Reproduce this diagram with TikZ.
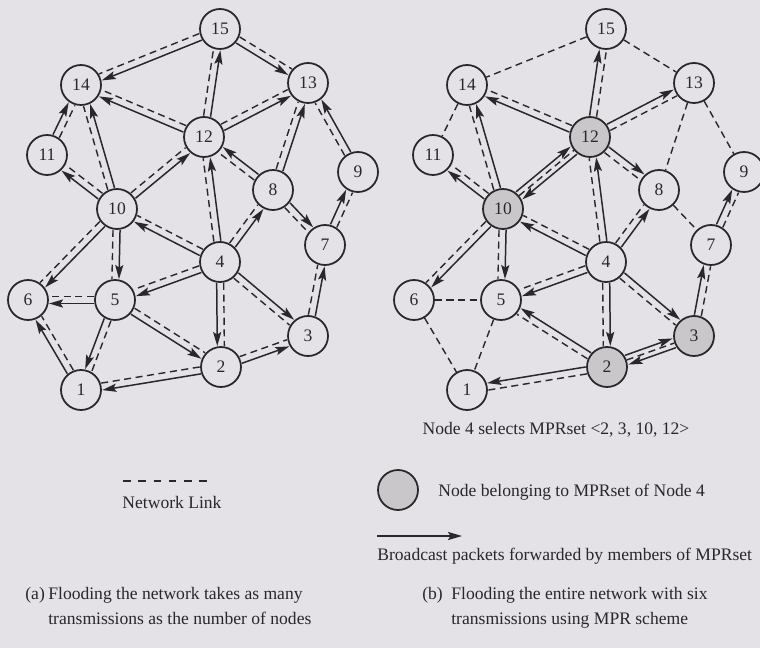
\documentclass[tikz,border=0pt]{standalone}
\usepackage{fontspec}
\setmainfont{Liberation Serif}
\usetikzlibrary{arrows.meta, calc}

\definecolor{paper}{RGB}{229,226,231}
\definecolor{ink}{RGB}{42,38,42}
\definecolor{mprgray}{RGB}{202,199,203}

\newcommand{\linkoff}{2pt}
\newcommand{\twooff}{2.8pt}

% #1 graph, arrow #2 -> #3, #4 side of the dashed link (1 = left)
\newcommand{\flood}[4]{%
  \pgfmathsetlengthmacro{\dsh}{(#4)*\linkoff}%
  \pgfmathsetlengthmacro{\arw}{-(#4)*\linkoff}%
  \draw[netlink, trim] ($(#1#2)!\dsh!90:(#1#3)$) -- ($(#1#3)!\dsh!-90:(#1#2)$);
  \draw[fwd, trim] ($(#1#2)!\arw!90:(#1#3)$) -- ($(#1#3)!\arw!-90:(#1#2)$);
}
\newcommand{\twoway}[3]{%
  \draw[netlink] (#1#2) -- (#1#3);
  \draw[fwd, trim] ($(#1#2)!\twooff!90:(#1#3)$) -- ($(#1#3)!\twooff!-90:(#1#2)$);
  \draw[fwd, trim] ($(#1#3)!\twooff!90:(#1#2)$) -- ($(#1#2)!\twooff!-90:(#1#3)$);
}

\begin{document}
\begin{tikzpicture}[x=0.02cm, y=-0.02cm, font=\fontsize{10}{14.2}\selectfont,
    stn/.style={circle, draw=ink, line width=1pt, fill=paper,
                minimum size=0.8cm, inner sep=0pt, text=ink},
    mpr/.style={stn, fill=mprgray},
    netlink/.style={draw=ink, line width=0.8pt, dash pattern=on 4pt off 2.6pt},
    fwd/.style={draw=ink, line width=0.85pt,
                -{Stealth[length=8pt, width=4.6pt, inset=1.5pt]}},
    trim/.style={shorten <=0.42cm, shorten >=0.42cm},
    lbl/.style={inner sep=0pt, text=ink}]

  \fill[paper] (0,0) rectangle (760,648);
  \useasboundingbox (0,0) rectangle (760,648);

  \foreach \n/\px/\py/\st in {1/81/390/stn, 2/221/367/mpr, 3/308/336/mpr,
      4/220/262/stn, 5/115/300/stn, 6/28/300/stn, 7/325/245/stn,
      8/273/190/stn, 9/358/172/stn, 10/117/209/mpr, 11/47/155/stn,
      12/204/137/mpr, 13/308/83/stn, 14/81/85/stn, 15/220/29/stn} {
    \node[stn] (a\n) at (\px,\py) {\n};
    \node[\st] (b\n) at (\px+386,\py) {\n};
  }

  % (a) every node forwards
  \foreach \p/\q/\s in {15/14/-1, 15/13/1, 12/15/1, 12/14/-1, 12/13/1,
      11/14/-1, 10/14/1, 8/13/1, 9/13/1, 10/12/1, 4/12/1, 8/12/1,
      10/11/-1, 4/10/-1, 10/5/-1, 10/6/-1, 4/8/1, 8/7/-1, 7/9/-1,
      4/5/-1, 4/2/1, 4/3/-1, 3/7/1, 5/6/-1, 1/6/-1, 5/1/1, 5/2/1,
      2/1/-1, 2/3/1}
    \flood{a}{\p}{\q}{\s};

  % (b) MPR flooding
  \foreach \p/\q/\s in {12/15/-1, 12/14/-1, 12/13/-1, 12/8/-1, 4/12/1,
      4/10/-1, 4/8/1, 4/5/-1, 4/2/-1, 4/3/-1, 10/14/1, 10/11/-1,
      10/6/-1, 10/5/-1, 2/5/1, 2/1/1, 3/7/-1, 7/9/-1}
    \flood{b}{\p}{\q}{\s};
  \twoway{b}{10}{12}
  \twoway{b}{2}{3}
  \foreach \p/\q in {15/14, 15/13, 14/11, 13/8, 13/9, 8/7, 6/5, 6/1, 5/1}
    \draw[netlink] (b\p) -- (b\q);

  \node[lbl] (sel) at (556,430) {Node 4 selects MPRset <2, 3, 10, 12>};

  \coordinate (dl) at (123,481);
  \coordinate (dr) at (207,481);
  \draw[netlink, dash pattern=on 4.3pt off 4.4pt] (dl) -- (dr);
  \node[lbl] (lnk) at (172,502) {Network Link};

  \node[mpr] (key) at (398,490) {};
  \node[lbl, anchor=west] (keytxt) at (438,492) {Node belonging to MPRset of Node 4};

  \coordinate (al) at (377,536);
  \coordinate (ar) at (462,536);
  \draw[fwd] (al) -- (ar);
  \node[lbl, anchor=west] (fwdtxt) at (377,556) {Broadcast packets forwarded by members of MPRset};

  \node[lbl, anchor=west] (capa) at (25,595) {(a)};
  \node[lbl, anchor=north west, align=left] (capatxt) at (48,587)
    {Flooding the network takes as many\\transmissions as the number of nodes};
  \node[lbl, anchor=west] (capb) at (422,595) {(b)};
  \node[lbl, anchor=north west, align=left] (capbtxt) at (451,587)
    {Flooding the entire network with six\\transmissions using MPR scheme};
\end{tikzpicture}
\end{document}
